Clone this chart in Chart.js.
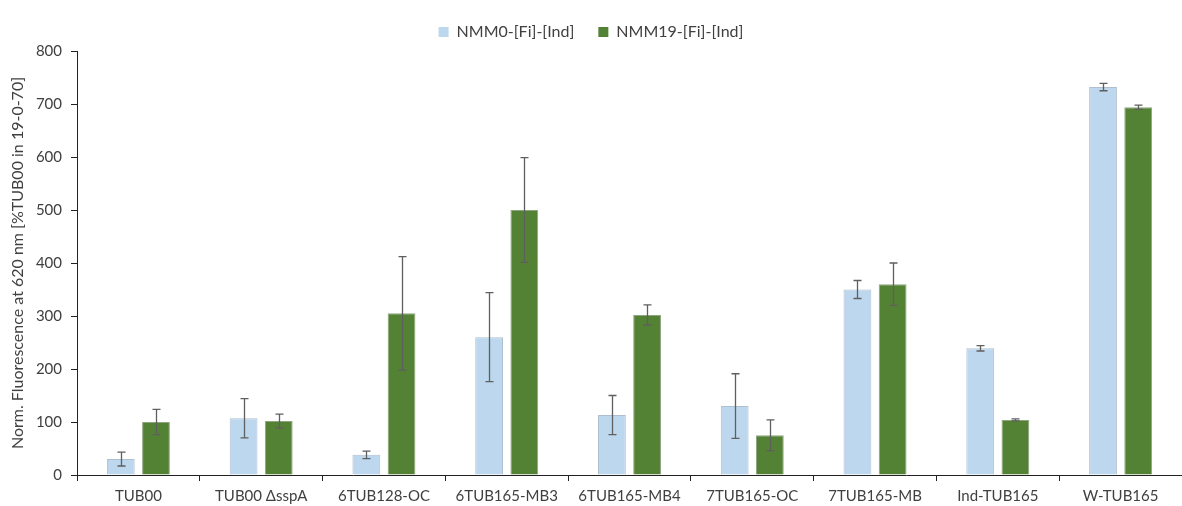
<!DOCTYPE html>
<html>
<head>
<meta charset="utf-8">
<script src="https://cdn.jsdelivr.net/npm/chart.js@4.4.1/dist/chart.umd.min.js"></script>
<style>
  html, body { margin: 0; padding: 0; background: #fff; }
  #wrap { width: 1182px; height: 506px; }
</style>
</head>
<body>
<div id="wrap"><canvas id="c" width="1182" height="506"></canvas></div>
<script>
// Strains on the x axis
const categories = ['TUB00', 'TUB00 \u0394sspA', '6TUB128-OC', '6TUB165-MB3', '6TUB165-MB4',
                    '7TUB165-OC', '7TUB165-MB', 'Ind-TUB165', 'W-TUB165'];
// Normalised fluorescence, medium NMM0
const nmm0 = [30, 107, 38, 260, 113, 130, 350, 239, 732];
const nmm0Err = [13, 37, 7, 84, 37, 61, 17, 5, 7];
// Normalised fluorescence, medium NMM19
const nmm19 = [100, 102, 305, 500, 302, 75, 360, 104, 694];
const nmm19Err = [24, 13, 107, 99, 19, 29, 40, 2, 4];
// Y axis tick labels
const yTicks = [0, 100, 200, 300, 400, 500, 600, 700, 800];

const FONT = 'Lato, "Open Sans", sans-serif';
const TEXT = '#404040';

// Draws symmetric error bars over each bar
const errorBars = {
  id: 'errorBars',
  afterDatasetsDraw(chart) {
    const { ctx } = chart;
    const y = chart.scales.y;
    chart.data.datasets.forEach((ds, i) => {
      const meta = chart.getDatasetMeta(i);
      if (meta.hidden) return;
      meta.data.forEach((bar, j) => {
        const v = ds.data[j], e = ds.errors[j];
        const top = y.getPixelForValue(v + e);
        const bot = y.getPixelForValue(v - e);
        const x = Math.round(bar.x) + 0.5;
        ctx.save();
        ctx.strokeStyle = '#5f5f5f';
        ctx.lineWidth = 1.3;
        ctx.beginPath();
        ctx.moveTo(x, top); ctx.lineTo(x, bot);
        ctx.moveTo(x - 4, top); ctx.lineTo(x + 4, top);
        ctx.moveTo(x - 4, bot); ctx.lineTo(x + 4, bot);
        ctx.stroke();
        ctx.restore();
      });
    });
  }
};

// Fixed legend block height so the plot area starts at the same place
const legendHeight = {
  id: 'legendHeight',
  beforeInit(chart) {
    const fit = chart.legend.fit;
    chart.legend.fit = function () {
      fit.bind(chart.legend)();
      this.height = 51;
    };
  }
};

new Chart(document.getElementById('c'), {
  type: 'bar',
  data: {
    labels: categories,
    datasets: [
      {
        label: 'NMM0-[Fi]-[Ind]',
        data: nmm0,
        errors: nmm0Err,
        backgroundColor: '#BDD7EE',
        borderColor: '#AEBFCF',
        borderWidth: 1,
        categoryPercentage: 0.573,
        barPercentage: 0.79
      },
      {
        label: 'NMM19-[Fi]-[Ind]',
        data: nmm19,
        errors: nmm19Err,
        backgroundColor: '#548235',
        borderColor: '#8FA580',
        borderWidth: 1,
        categoryPercentage: 0.573,
        barPercentage: 0.79
      }
    ]
  },
  options: {
    responsive: false,
    animation: false,
    layout: { padding: { top: 0, right: 0, bottom: 0, left: 0 } },
    plugins: {
      legend: {
        position: 'top',
        labels: {
          boxWidth: 10,
          boxHeight: 10,
          padding: 24,
          color: TEXT,
          font: { family: FONT, size: 16 },
          generateLabels(chart) {
            return chart.data.datasets.map((ds, i) => ({
              text: ds.label,
              fillStyle: ds.backgroundColor,
              strokeStyle: ds.backgroundColor,
              lineWidth: 0,
              fontColor: TEXT,
              datasetIndex: i,
              hidden: false
            }));
          }
        }
      },
      tooltip: { enabled: false }
    },
    scales: {
      x: {
        grid: { display: true, drawOnChartArea: false, drawTicks: true, tickLength: 6, color: '#222', offset: true },
        border: { display: true, color: '#222', width: 1 },
        ticks: { color: TEXT, font: { family: FONT, size: 15 }, padding: 6, maxRotation: 0, autoSkip: false },
        afterFit(scale) { scale.height = 31; }
      },
      y: {
        min: 0,
        max: 800,
        afterBuildTicks(scale) { scale.ticks = yTicks.map(v => ({ value: v })); },
        grid: { display: true, drawOnChartArea: false, drawTicks: true, tickLength: 6, color: '#222' },
        border: { display: true, color: '#222', width: 1 },
        ticks: { color: TEXT, font: { family: FONT, size: 15 }, padding: 9 },
        title: {
          display: true,
          text: 'Norm. Fluorescence at 620 nm [%TUB00 in 19-0-70]',
          color: TEXT,
          font: { family: FONT, size: 16 },
          padding: { top: 8, bottom: 4 }
        },
        afterFit(scale) { scale.width = 77; }
      }
    }
  },
  plugins: [errorBars, legendHeight]
});
</script>
</body>
</html>
